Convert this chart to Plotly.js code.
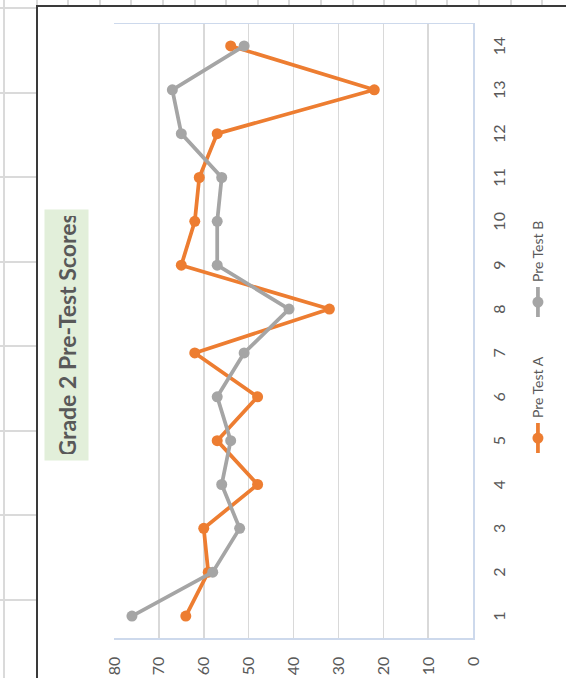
<!DOCTYPE html>
<html><head><meta charset="utf-8">
<script src="https://cdn.plot.ly/plotly-3.0.1.min.js"></script>
<style>
html,body{margin:0;padding:0;width:566px;height:678px;overflow:hidden;background:#fff;}
.gl{position:absolute;background:#dadada;}
#chartbg{position:absolute;left:36px;top:5px;width:560px;height:700px;background:#fff;border-left:2px solid #3a3a3a;border-top:2px solid #3a3a3a;}
#rot{position:absolute;left:0;top:0;width:678px;height:566px;transform-origin:0 0;transform:translate(0,678px) rotate(-90deg);}
</style></head>
<body>
<div id="grid"></div>
<div id="chartbg"></div>
<div id="rot"><div id="chart" style="width:678px;height:566px;"></div></div>
<script>
const categories = ['1','2','3','4','5','6','7','8','9','10','11','12','13','14'];
const preTestA = [64,59,60,48,57,48,62,32,65,62,61,57,22,54];
const preTestB = [76,58,52,56,54,57,51,41,57,57,56,65,67,51];
const valueTicks = [0,10,20,30,40,50,60,70,80];
const seriesNames = ['Pre Test A','Pre Test B'];
const chartTitle = 'Grade 2 Pre-Test Scores';

// spreadsheet cell lines around the chart (decoration)
const grid = document.getElementById('grid');
function line(l,t,w,h){const d=document.createElement('div');d.className='gl';d.style.left=l+'px';d.style.top=t+'px';d.style.width=w+'px';d.style.height=h+'px';grid.appendChild(d);}
line(3,0,2,678);
for(let x=4+31.6;x<566;x+=31.6){line(Math.round(x),0,2,6);}
for(let y=7;y<678;y+=84.5){line(0,Math.round(y),36,2);}

const traces = [
  {x:categories, y:preTestA, name:seriesNames[0], type:'scatter', mode:'lines+markers',
   line:{color:'#ED7D31', width:3.75}, marker:{color:'#ED7D31', size:11}},
  {x:categories, y:preTestB, name:seriesNames[1], type:'scatter', mode:'lines+markers',
   line:{color:'#A5A5A5', width:3.75}, marker:{color:'#A5A5A5', size:11}}
];
const layout = {
  width:678, height:566,
  margin:{l:40, r:24, t:114, b:89},
  paper_bgcolor:'rgba(0,0,0,0)', plot_bgcolor:'rgba(0,0,0,0)',
  font:{family:'Lato, sans-serif', color:'#595959', size:16},
  xaxis:{type:'category', range:[-0.5, categories.length-0.5], autorange:false,
         showgrid:false, showline:true, linecolor:'#cdd9ec', linewidth:1.5,
         ticks:'', ticklabelstandoff:11, tickfont:{size:16, color:'#595959'}},
  yaxis:{range:[0,80], autorange:false, tickvals:valueTicks, gridcolor:'#d9d9d9', gridwidth:1.5,
         showline:true, mirror:true, linecolor:'#cdd9ec', linewidth:1.5, zeroline:false,
         ticks:'', ticklabelstandoff:14, tickfont:{size:16, color:'#595959'}},
  showlegend:true,
  legend:{orientation:'h', x:0.293, xanchor:'left', y:-0.182, yanchor:'middle',
          entrywidth:91, entrywidthmode:'pixels',
          font:{size:14, color:'#595959'}, bgcolor:'rgba(0,0,0,0)'},
  annotations:[{text:'<b>'+chartTitle+'</b>', xref:'paper', yref:'paper', x:0.493, y:1.131,
    xanchor:'center', yanchor:'middle', showarrow:false, bgcolor:'#E2EFDA',
    font:{size:23, color:'#595959', family:'Lato, sans-serif'}, borderpad:6, width:238, height:31}]
};
Plotly.newPlot('chart', traces, layout, {displayModeBar:false, staticPlot:true});
</script>
</body></html>
